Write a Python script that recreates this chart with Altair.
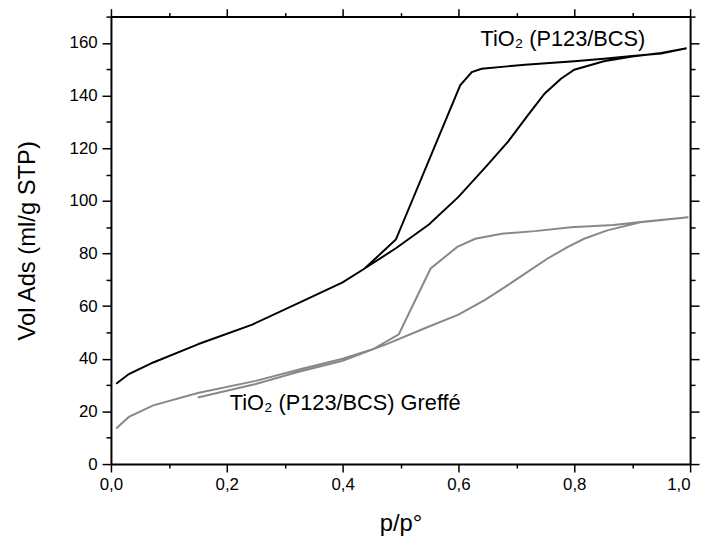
import altair as alt
import pandas as pd

# TiO2 (P123/BCS) - adsorption branch
ads_black_p = [0.009, 0.031, 0.073, 0.150, 0.244, 0.330, 0.400, 0.438, 0.492, 0.549, 0.600,
               0.646, 0.686, 0.720, 0.749, 0.777, 0.800, 0.851, 0.900, 0.950, 0.994]
ads_black_v = [30.5, 34.2, 38.6, 45.5, 53.0, 61.8, 69.0, 74.3, 82.0, 91.0, 101.5,
               112.6, 122.6, 132.6, 140.8, 146.4, 149.8, 153.0, 154.8, 156.2, 158.0]
# TiO2 (P123/BCS) - desorption branch
des_black_p = [0.994, 0.950, 0.900, 0.851, 0.800, 0.715, 0.640, 0.623, 0.603, 0.492,
               0.438, 0.400, 0.330, 0.244, 0.150]
des_black_v = [158.0, 156.0, 155.0, 154.0, 153.0, 151.7, 150.2, 148.9, 143.9, 85.3,
               74.3, 69.0, 61.8, 53.0, 45.5]

# TiO2 (P123/BCS) Greffé - adsorption branch
ads_gray_p = [0.009, 0.031, 0.073, 0.150, 0.250, 0.330, 0.400, 0.452, 0.475, 0.544, 0.600,
              0.646, 0.680, 0.720, 0.754, 0.789, 0.817, 0.857, 0.914, 0.997]
ads_gray_v = [13.5, 17.9, 22.3, 27.0, 31.6, 36.2, 40.0, 43.6, 45.5, 51.8, 56.8,
              62.4, 67.2, 73.1, 78.1, 82.5, 85.6, 88.8, 91.9, 93.8]
# TiO2 (P123/BCS) Greffé - desorption branch
des_gray_p = [0.997, 0.914, 0.868, 0.794, 0.732, 0.675, 0.629, 0.598, 0.552, 0.497,
              0.452, 0.400, 0.321, 0.250, 0.150]
des_gray_v = [93.8, 92.0, 90.8, 90.0, 88.5, 87.5, 85.6, 82.5, 74.3, 49.3,
              43.6, 39.2, 34.9, 30.4, 25.3]

series_names = ["TiO2 (P123/BCS)", "TiO2 (P123/BCS) Greffé"]
series_colors = ["#000000", "#888888"]

label_texts = ["TiO\u2082 (P123/BCS)", "TiO\u2082 (P123/BCS) Greff\u00e9"]
label_p = [0.638, 0.205]
label_v = [158.9, 20.4]

x_ticks = [0.0, 0.1, 0.2, 0.3, 0.4, 0.5, 0.6, 0.7, 0.8, 0.9, 1.0]
y_ticks = [0, 10, 20, 30, 40, 50, 60, 70, 80, 90, 100, 110, 120, 130, 140, 150, 160, 170]

rows = []
for name, bp, bv, dp, dv in [
    (series_names[0], ads_black_p, ads_black_v, des_black_p, des_black_v),
    (series_names[1], ads_gray_p, ads_gray_v, des_gray_p, des_gray_v),
]:
    i = 0
    for p, v in zip(bp + dp, bv + dv):
        rows.append({"series": name, "p": p, "v": v, "idx": i})
        i += 1
df = pd.DataFrame(rows)
lab = pd.DataFrame({"p": label_p, "v": label_v, "text": label_texts})

FONT = "Liberation Sans"
x_major = "abs(datum.value*5 - round(datum.value*5)) < 0.001"
y_major = "abs(datum.value/20 - round(datum.value/20)) < 0.001"

xscale = alt.Scale(domain=[0, 1], nice=False, zero=False)
yscale = alt.Scale(domain=[0, 170], nice=False, zero=False)

common = dict(grid=False, domainColor="black", domainWidth=2, tickColor="black",
              tickWidth=1.5, labelFont=FONT, labelFontSize=17, labelColor="black",
              titleFont=FONT, titleFontSize=24, titleColor="black", titleFontWeight="normal")

x_axis = alt.Axis(orient="bottom", values=x_ticks,
                  labelExpr=f"({x_major}) ? replace(format(datum.value, '.1f'), '.', ',') : ''",
                  tickSize={"condition": {"test": x_major, "value": 8}, "value": 4},
                  labelAlign={"condition": {"test": "datum.value > 0.999", "value": "right"}, "value": "center"},
                  labelPadding=5, title="p/p°", titleBaseline="alphabetic", titleY=67,
                  labelFlush=False, labelOverlap=False, **common)
y_axis = alt.Axis(orient="left", values=y_ticks,
                  labelExpr=f"({y_major}) ? format(datum.value, 'd') : ''",
                  tickSize={"condition": {"test": y_major, "value": 9}, "value": 5},
                  labelPadding=5, title="Vol Ads (ml/g STP)", titleBaseline="alphabetic",
                  titleX=-77, labelFlush=False, labelOverlap=False, **common)

lines = alt.Chart(df).mark_line(strokeWidth=2, interpolate="linear").encode(
    x=alt.X("p:Q", scale=xscale, axis=x_axis),
    y=alt.Y("v:Q", scale=yscale, axis=y_axis),
    color=alt.Color("series:N", scale=alt.Scale(domain=series_names, range=series_colors), legend=None),
    detail="series:N",
    order="idx:Q",
)

x_axis_top = alt.Axis(orient="top", values=x_ticks, labels=False, title=None,
                      tickSize={"condition": {"test": x_major, "value": 8}, "value": 4},
                      grid=False, domainColor="black", domainWidth=2, tickColor="black", tickWidth=1.5)
y_axis_right = alt.Axis(orient="right", values=y_ticks, labels=False, title=None,
                        tickSize={"condition": {"test": y_major, "value": 9}, "value": 5},
                        grid=False, domainColor="black", domainWidth=2, tickColor="black", tickWidth=1.5)

texts = alt.Chart(lab).mark_text(align="left", baseline="alphabetic", font=FONT,
                                 fontSize=22, color="black").encode(
    x=alt.X("p:Q", scale=xscale, axis=x_axis_top),
    y=alt.Y("v:Q", scale=yscale, axis=y_axis_right),
    text="text:N",
)

chart = alt.layer(lines, texts).resolve_axis(x="independent", y="independent").properties(
    width=585, height=452,
    autosize=alt.AutoSizeParams(type="none"),
    padding={"left": 104, "top": 6, "right": 11, "bottom": 72},
).configure_view(stroke=None).configure(background="white")

chart.save("out.html", embed_options={"renderer": "svg", "actions": False})
